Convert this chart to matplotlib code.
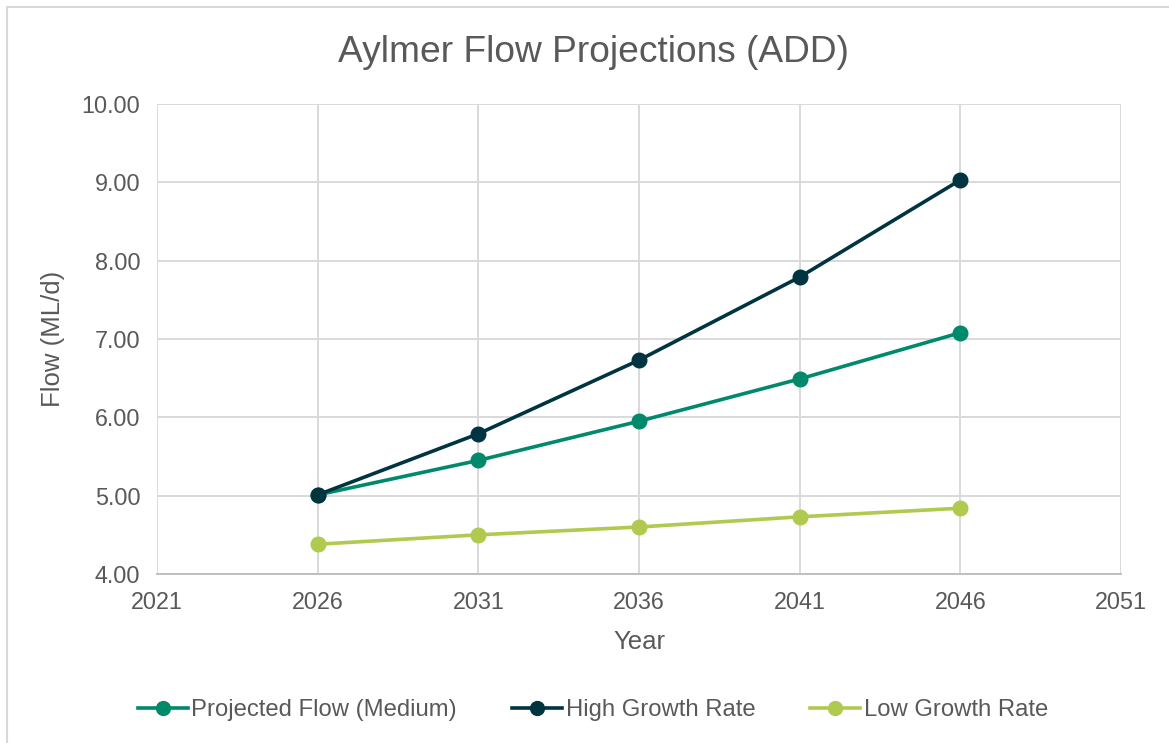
import matplotlib.pyplot as plt
from matplotlib.patches import Rectangle

years = [2026, 2031, 2036, 2041, 2046]
medium = [5.01, 5.45, 5.95, 6.49, 7.08]
high = [5.01, 5.79, 6.73, 7.79, 9.03]
low = [4.38, 4.50, 4.60, 4.73, 4.84]

series = [
    ("Projected Flow (Medium)", medium, "#00896A"),
    ("High Growth Rate", high, "#003440"),
    ("Low Growth Rate", low, "#AFCA4F"),
]

plt.rcParams['font.family'] = ['Liberation Sans', 'DejaVu Sans']
textColor = "#595959"
gridColor = "#D9D9D9"

fig = plt.figure(figsize=(11.69, 7.43), dpi=100)
ax = fig.add_axes([157 / 1169, 1 - 574 / 743, (1121 - 157) / 1169, (574 - 104) / 743])

for name, vals, color in series:
    ax.plot(years, vals, color=color, linewidth=2.6, marker='o', markersize=10.5,
            label=name, zorder=3)

ax.set_xlim(2021, 2051)
ax.set_ylim(4, 10)
ax.set_xticks(range(2021, 2052, 5))
ax.set_yticks(range(4, 11))
ax.yaxis.set_major_formatter(plt.FuncFormatter(lambda v, p: f"{v:.2f}"))
ax.grid(True, color=gridColor, linewidth=1.4)
ax.set_axisbelow(True)
for side in ['top', 'right', 'left']:
    ax.spines[side].set_visible(False)
ax.spines['bottom'].set_color("#BFBFBF")
ax.spines['bottom'].set_linewidth(1.4)
ax.tick_params(length=0, labelsize=16.8, labelcolor=textColor, pad=12)

ax.set_xlabel("Year", fontsize=18.5, color=textColor, labelpad=12)
ax.set_ylabel("Flow (ML/d)", fontsize=18.5, color=textColor, labelpad=12)
fig.text(593 / 1169, 1 - 52 / 743, "Aylmer Flow Projections (ADD)", ha='center', va='center',
         fontsize=26.7, color=textColor)

fig.legend(loc='center', bbox_to_anchor=(593 / 1169, 1 - 710 / 743), ncol=3, frameon=False,
           fontsize=17.2, labelcolor=textColor, handlelength=2.1, handletextpad=0.15,
           columnspacing=2.3, markerscale=0.95)

# 外框
fig.patches.append(Rectangle((7 / 1169, -0.01), 1.02, 1 - 7 / 743 + 0.01, transform=fig.transFigure,
                             fill=False, edgecolor=gridColor, linewidth=1.5))

plt.savefig("out.png", dpi=100)
